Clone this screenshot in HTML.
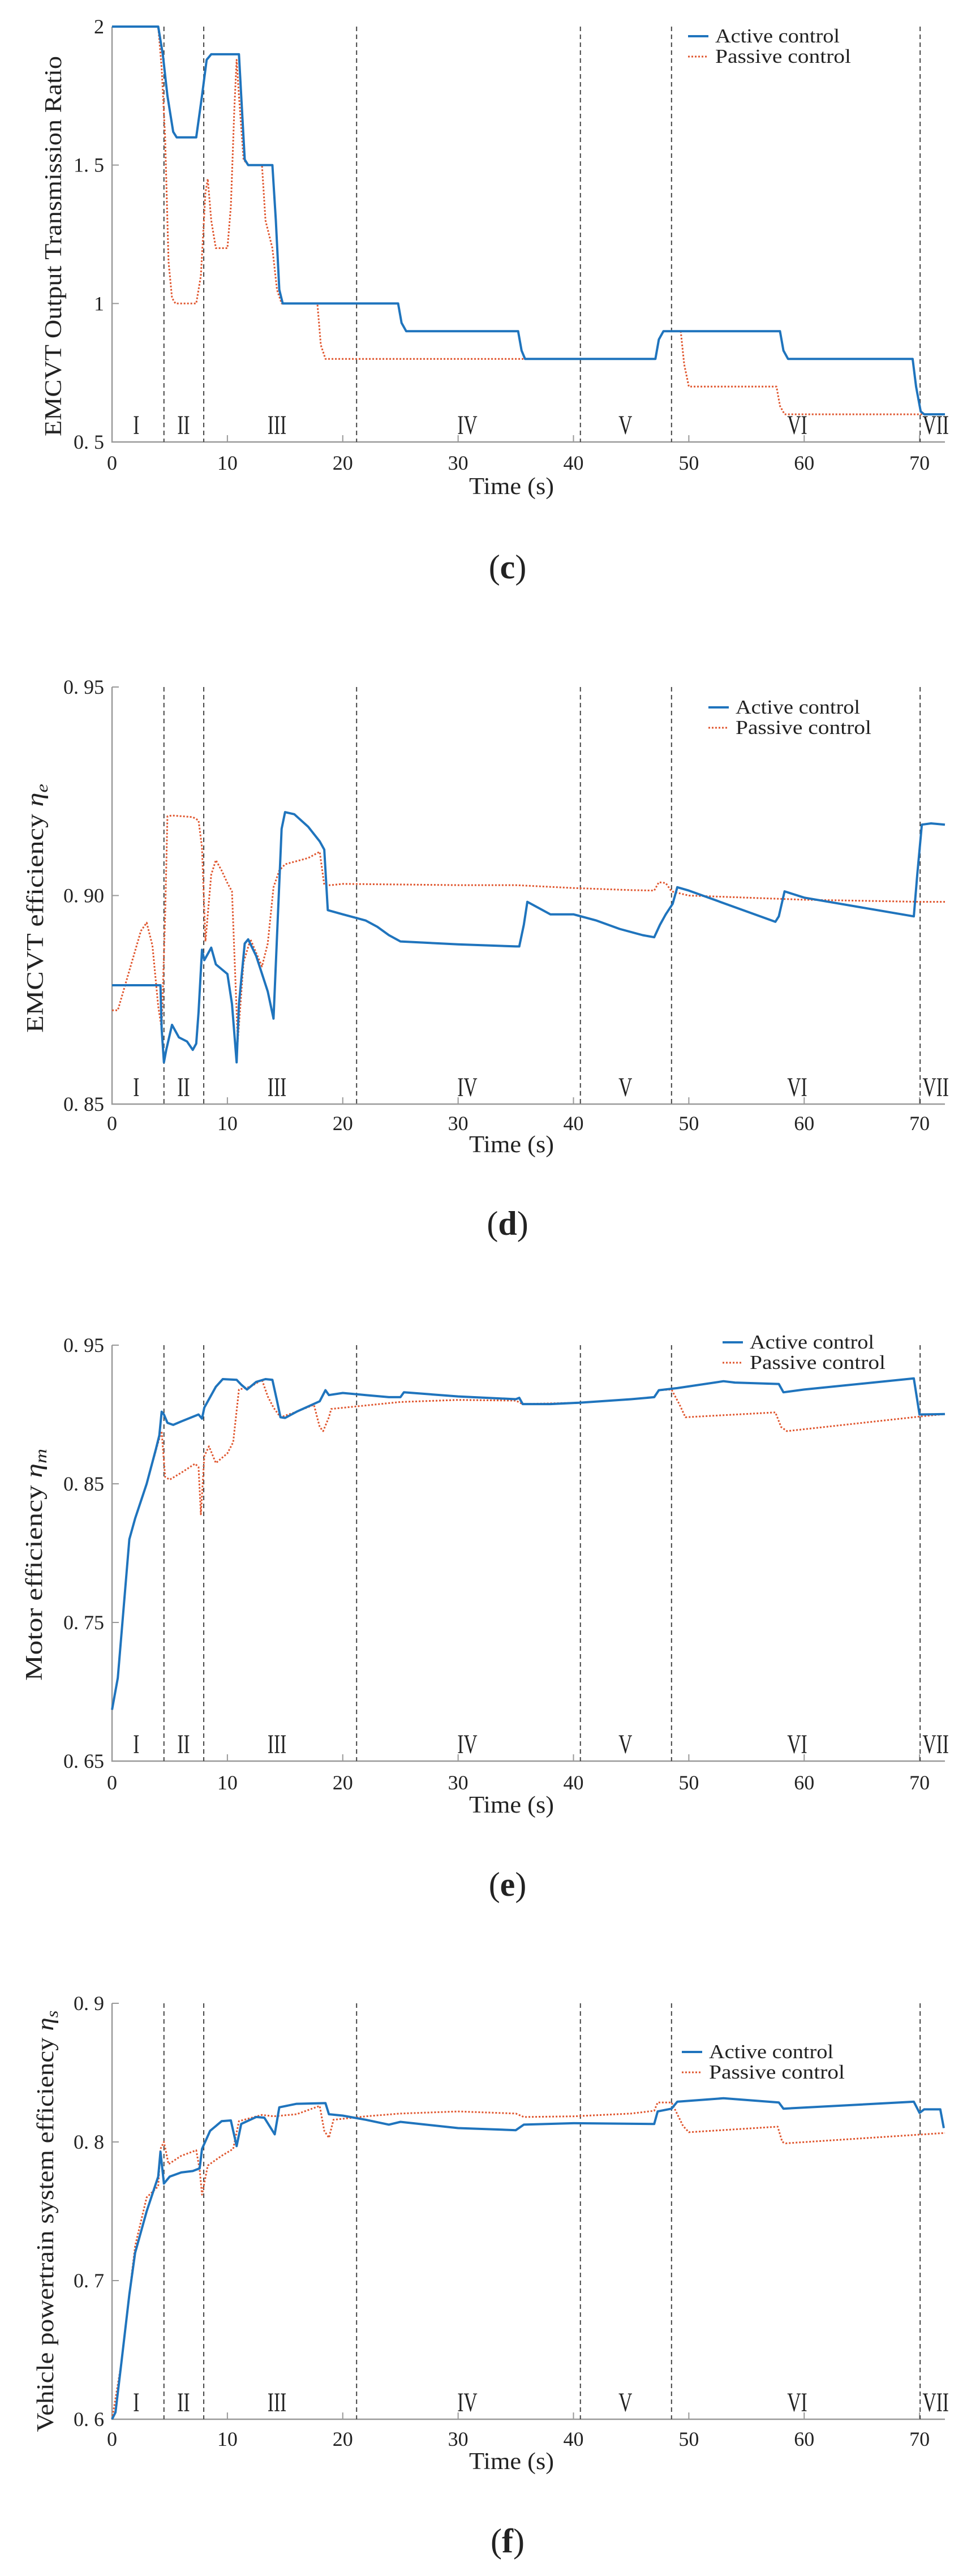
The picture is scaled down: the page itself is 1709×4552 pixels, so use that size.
<!DOCTYPE html>
<html><head><meta charset="utf-8"><title>EMCVT control comparison</title>
<style>
html,body{margin:0;padding:0;background:#fff;}
svg{display:block;}
text{font-family:"Liberation Serif",serif;fill:#222;}
</style></head>
<body>
<svg id="fig" width="1709" height="4552" viewBox="0 0 1709 4552" xmlns="http://www.w3.org/2000/svg"></svg>
<script>
// ---------- shared data ----------
const phaseBounds = [4.5, 7.95, 21.2, 40.6, 48.5, 70.05];
const phaseLabels = ["I","II","III","IV","V","VI","VII"];
const phaseLabelT = [2.1, 6.2, 14.3, 30.8, 44.5, 59.4, 71.4];
const xTicks = [0,10,20,30,40,50,60,70];

// ---------- chart (c) ----------
const cActiveT = [0,4,4.4,4.8,5.3,5.6,7.3,7.8,8.2,8.6,11,11.2,11.5,11.8,13.9,14.2,14.5,14.8,24.8,25.1,25.5,35.2,35.5,35.8,47.1,47.4,47.8,57.9,58.2,58.6,69.4,69.7,70.1,70.4,72.2];
const cActiveV = [2,2,1.9,1.75,1.62,1.6,1.6,1.75,1.88,1.9,1.9,1.75,1.52,1.5,1.5,1.3,1.05,1.0,1.0,0.93,0.9,0.9,0.83,0.8,0.8,0.87,0.9,0.9,0.83,0.8,0.8,0.7,0.61,0.6,0.6];
const cPassiveT = [0,4,4.3,4.6,4.9,5.2,5.5,7.3,7.7,8.1,8.3,8.6,9,10,10.3,10.6,10.8,11,11.4,11.8,13,13.3,13.9,14.3,14.7,17.8,18.1,18.5,35.8,47.1,47.4,47.8,49.3,49.6,50,57.6,57.9,58.3,72.2];
const cPassiveV = [2,2,1.85,1.6,1.15,1.02,1.0,1.0,1.1,1.4,1.45,1.3,1.2,1.2,1.35,1.7,1.88,1.75,1.52,1.5,1.5,1.3,1.2,1.05,1.0,1.0,0.85,0.8,0.8,0.8,0.87,0.9,0.9,0.78,0.7,0.7,0.63,0.6,0.6];
const cYTicks = [0.5,1,1.5,2];
const cYTickLabels = ["0. 5","1","1. 5","2"];

// ---------- chart (d) ----------
const dActiveT = [0,4.2,4.3,4.5,4.7,5.2,5.8,6.5,7,7.3,7.5,7.8,8,8.6,9,10,10.4,10.8,11,11.5,11.8,12.5,13.5,14,14.3,14.7,15,15.8,17,18,18.4,18.7,20,22,23,24,25,30,35,35.3,35.7,36,37,38,40,42,44,46,47,47.5,48,48.6,49,50,57.5,57.8,58.3,60,69.5,69.8,70.2,71,72.2];
const dActiveV = [0.8785,0.8785,0.868,0.86,0.863,0.869,0.866,0.865,0.863,0.8645,0.872,0.887,0.8845,0.8875,0.8835,0.8812,0.874,0.86,0.874,0.8885,0.8895,0.8855,0.877,0.8705,0.89,0.916,0.92,0.9195,0.9165,0.913,0.911,0.8965,0.8955,0.894,0.8925,0.8905,0.889,0.8883,0.8878,0.8878,0.893,0.8985,0.897,0.8955,0.8955,0.894,0.892,0.8905,0.89,0.893,0.8955,0.898,0.902,0.9012,0.8937,0.895,0.901,0.8995,0.895,0.905,0.917,0.9173,0.917];
const dPassiveT = [0,0.5,1.5,2.5,3,3.5,4,4.3,4.6,4.8,5.2,7,7.5,7.8,8.1,8.6,9,9.5,10,10.4,10.9,11.4,12,13,13.5,14,14.5,15,17,18,18.4,19,20,30,35,40,45,47,47.4,48,48.5,50,60,70,72.2];
const dPassiveV = [0.8725,0.8725,0.882,0.8915,0.8935,0.888,0.8735,0.868,0.895,0.919,0.9192,0.9188,0.918,0.9115,0.889,0.905,0.9085,0.906,0.903,0.901,0.865,0.884,0.8895,0.883,0.8885,0.902,0.906,0.9075,0.909,0.9105,0.9025,0.9025,0.9028,0.9025,0.9025,0.9018,0.9013,0.9012,0.9032,0.903,0.901,0.9,0.899,0.8985,0.8985];
const dYTicks = [0.85,0.90,0.95];
const dYTickLabels = ["0. 85","0. 90","0. 95"];

// ---------- chart (e) ----------
const eActiveT = [0,0.5,1,1.5,2,3,3.8,4.1,4.3,4.5,4.8,5.3,6,7.5,7.8,8,9,9.6,10.8,11.2,11.7,12.5,13.3,13.9,14.3,14.6,15,16,18,18.5,18.8,20,22,24,25,25.3,30,35,35.3,35.6,38,40.5,45,47,47.4,49,53,54,57.8,58.2,60,69.5,70,72.2];
const eActiveV = [0.687,0.71,0.76,0.81,0.825,0.85,0.875,0.885,0.902,0.9,0.894,0.8925,0.895,0.9,0.897,0.905,0.92,0.9255,0.925,0.9215,0.918,0.9235,0.9255,0.925,0.91,0.898,0.8975,0.902,0.9095,0.9175,0.914,0.9155,0.914,0.9125,0.9125,0.916,0.913,0.911,0.912,0.9075,0.9075,0.9085,0.911,0.9125,0.9175,0.919,0.924,0.923,0.922,0.916,0.918,0.926,0.9,0.9003];
const ePassiveT = [0,0.5,1,1.5,2,3,4,4.3,4.6,5,6,7.2,7.5,7.7,8,8.4,9,10,10.5,11,12,13,13.5,14,14.6,16,17.5,18,18.3,18.8,19,25,30,35,35.6,40.5,45,47,47.4,48.5,49.2,49.7,57.5,58,58.5,70,72.2];
const ePassiveV = [0.687,0.71,0.76,0.81,0.825,0.85,0.88,0.888,0.855,0.853,0.858,0.8645,0.862,0.828,0.87,0.877,0.865,0.872,0.88,0.918,0.92,0.925,0.913,0.905,0.898,0.902,0.907,0.891,0.888,0.898,0.904,0.909,0.9105,0.91,0.9075,0.9085,0.911,0.9125,0.9175,0.918,0.907,0.898,0.9015,0.891,0.888,0.8985,0.9003];
const eYTicks = [0.65,0.75,0.85,0.95];
const eYTickLabels = ["0. 65","0. 75","0. 85","0. 95"];

// ---------- chart (f) ----------
const fActiveT = [0,0.3,0.8,1.5,2,3,4,4.2,4.5,5,6,7,7.6,7.8,8.5,9.5,10.3,10.8,11.2,12.5,13.2,14.1,14.5,16,18.5,18.8,20,22,24,25,30,35,35.7,40,47,47.3,48.5,49,53,57.8,58.2,69.5,70,70.4,71.8,72.1];
const fActiveV = [0.6,0.605,0.64,0.69,0.72,0.75,0.775,0.793,0.77,0.775,0.778,0.779,0.781,0.795,0.808,0.815,0.8155,0.797,0.813,0.818,0.8175,0.8055,0.825,0.8275,0.828,0.82,0.819,0.816,0.8125,0.8145,0.81,0.8085,0.8125,0.8135,0.813,0.822,0.824,0.829,0.8315,0.8285,0.824,0.829,0.821,0.8235,0.8235,0.81];
const fPassiveT = [0,0.8,1.5,2,3,4,4.2,4.5,4.9,6,7.3,7.6,7.8,8.3,9.5,10.5,11,13,14,16,18,18.4,18.8,19.2,22,25,30,35,35.7,40,45,47,47.3,48.5,49.5,50,57.7,58.1,58.4,72.2];
const fPassiveV = [0.6,0.64,0.69,0.725,0.76,0.768,0.795,0.8,0.784,0.79,0.794,0.78,0.762,0.783,0.79,0.795,0.815,0.8195,0.8185,0.82,0.826,0.808,0.803,0.816,0.8185,0.8205,0.822,0.8205,0.818,0.8185,0.8205,0.8225,0.8285,0.8285,0.8115,0.807,0.811,0.8,0.799,0.8065];
const fYTicks = [0.6,0.7,0.8,0.9];
const fYTickLabels = ["0. 6","0. 7","0. 8","0. 9"];

// ---------- drawing ----------
const NS = "http://www.w3.org/2000/svg";
const svg = document.getElementById("fig");
const X0 = 198, X1 = 1670, TMAX = 72.2;
function xs(t){ return X0 + (X1 - X0) * t / TMAX; }
function mk(tag, attrs, parent){
  const el = document.createElementNS(NS, tag);
  for (const k in attrs) el.setAttribute(k, attrs[k]);
  (parent || svg).appendChild(el);
  return el;
}
function mkText(str, attrs, parent){ const t = mk("text", attrs, parent); t.textContent = str; return t; }

function drawChart(cfg){
  const g = mk("g", {});
  
  
  const ys = v => cfg.yBot - (cfg.yBot - cfg.yTop) * (v - cfg.vMin) / (cfg.vMax - cfg.vMin);

  const ax = mk("path", {d:`M${X0},${cfg.yTop} L${X0},${cfg.yBot} L${X1},${cfg.yBot}`, fill:"none", stroke:"#999", "stroke-width":2.5}, g);
  
  

  xTicks.forEach(t => {
    const x = xs(t);
    const tk = mk("line", {x1:x, x2:x, y1:cfg.yBot, y2:cfg.yBot-12, stroke:"#999", "stroke-width":2}, g);
    
    
    const lb = mkText(String(t), {x:x, y:cfg.xLabY, "text-anchor":"middle", "font-size":36}, g);
    
    
  });
  cfg.yTicks.forEach((v, i) => {
    const y = ys(v);
    const tk = mk("line", {x1:X0, x2:X0+12, y1:y, y2:y, stroke:"#999", "stroke-width":2}, g);
    
    
    const lb = mkText(cfg.yTickLabels[i], {x:184, y:y+12, "text-anchor":"end", "font-size":36}, g);
    
    
  });

  phaseBounds.forEach(t => {
    const l = mk("line", {x1:xs(t), x2:xs(t), y1:cfg.yTop, y2:cfg.yBot, stroke:"#444", "stroke-width":2, "stroke-dasharray":"8 6"}, g);
    
    
  });
  phaseLabels.forEach((s, i) => {
    const px = xs(phaseLabelT[i]);
    const lb = mkText(s, {x:px, y:cfg.yBot-14, "text-anchor":"middle", "font-size":48, transform:`translate(${px*0.3},0) scale(0.7,1)`}, g);
    
    
  });

  function pts(T, V){ return T.map((t,i)=>`${xs(t).toFixed(1)},${ys(V[i]).toFixed(1)}`).join(" "); }
  const pa = mk("polyline", {points:pts(cfg.pT, cfg.pV), fill:"none", stroke:"#e0562e", "stroke-width":3, "stroke-dasharray":"3 3", "stroke-linejoin":"round"}, g);
  
  
  const aa = mk("polyline", {points:pts(cfg.aT, cfg.aV), fill:"none", stroke:"#1f74bd", "stroke-width":4, "stroke-linejoin":"round"}, g);
  
  

  const lg = mk("g", {}, g);
  
  
  const l1 = mk("line", {x1:cfg.legX, x2:cfg.legX+36, y1:cfg.legY, y2:cfg.legY, stroke:"#1f74bd", "stroke-width":4}, lg);
  
  
  const t1 = mkText("Active control", {x:cfg.legX+48, y:cfg.legY+11, "font-size":35, textLength:220, lengthAdjust:"spacingAndGlyphs"}, lg);
  
  
  const l2 = mk("line", {x1:cfg.legX, x2:cfg.legX+36, y1:cfg.legY+36, y2:cfg.legY+36, stroke:"#e0562e", "stroke-width":3, "stroke-dasharray":"3 3"}, lg);
  
  
  const t2 = mkText("Passive control", {x:cfg.legX+48, y:cfg.legY+47, "font-size":35, textLength:240, lengthAdjust:"spacingAndGlyphs"}, lg);
  
  

  const xt = mkText("Time (s)", {x:904, y:cfg.xTitleY, "text-anchor":"middle", "font-size":42, textLength:150, lengthAdjust:"spacingAndGlyphs"}, g);
  
  
  const yt = mk("text", {x:0, y:0, "text-anchor":"middle", "font-size":cfg.ytSize, textLength:cfg.ytLen, lengthAdjust:"spacingAndGlyphs", transform:`translate(${cfg.ytX},${cfg.ytY}) rotate(-90)`}, g);
  
  
  yt.textContent = cfg.ytText;
  if (cfg.ytSub){
    const ts = document.createElementNS(NS, "tspan");
    ts.setAttribute("font-style", "italic");
    ts.textContent = "  η";
    yt.appendChild(ts);
    const sb = document.createElementNS(NS, "tspan");
    sb.setAttribute("font-style", "italic");
    sb.setAttribute("font-size", cfg.ytSize*0.7);
    sb.setAttribute("dy", 8);
    sb.textContent = cfg.ytSub;
    yt.appendChild(sb);
  }

  const cap = mk("text", {x:897, y:cfg.capY, "text-anchor":"middle", "font-size":60}, g);
  
  
  cap.appendChild(document.createTextNode("("));
  const b = document.createElementNS(NS, "tspan");
  b.setAttribute("font-weight", "bold");
  b.textContent = cfg.cap;
  cap.appendChild(b);
  cap.appendChild(document.createTextNode(")"));
}

drawChart({name:"chart-c-transmission-ratio", yTop:47, yBot:781, vMin:0.5, vMax:2, yTicks:cYTicks, yTickLabels:cYTickLabels,
  aT:cActiveT, aV:cActiveV, pT:cPassiveT, pV:cPassiveV, legX:1216, legY:64, xLabY:830, xTitleY:873,
  ytText:"EMCVT Output Transmission Ratio", ytX:108, ytY:435, ytSize:42, ytLen:672, ytSub:null, capY:1022, cap:"c"});
drawChart({name:"chart-d-emcvt-efficiency", yTop:1214, yBot:1951, vMin:0.85, vMax:0.95, yTicks:dYTicks, yTickLabels:dYTickLabels,
  aT:dActiveT, aV:dActiveV, pT:dPassiveT, pV:dPassiveV, legX:1252, legY:1250, xLabY:1997, xTitleY:2036,
  ytText:"EMCVT efficiency", ytX:76, ytY:1605, ytSize:42, ytLen:440, ytSub:"e", capY:2182, cap:"d"});
drawChart({name:"chart-e-motor-efficiency", yTop:2377, yBot:3112, vMin:0.65, vMax:0.95, yTicks:eYTicks, yTickLabels:eYTickLabels,
  aT:eActiveT, aV:eActiveV, pT:ePassiveT, pV:ePassiveV, legX:1277, legY:2372, xLabY:3162, xTitleY:3203,
  ytText:"Motor efficiency", ytX:74, ytY:2765, ytSize:42, ytLen:410, ytSub:"m", capY:3350, cap:"e"});
drawChart({name:"chart-f-powertrain-efficiency", yTop:3540, yBot:4275, vMin:0.6, vMax:0.9, yTicks:fYTicks, yTickLabels:fYTickLabels,
  aT:fActiveT, aV:fActiveV, pT:fPassiveT, pV:fPassiveV, legX:1205, legY:3626, xLabY:4322, xTitleY:4363,
  ytText:"Vehicle powertrain system efficiency", ytX:94, ytY:3925, ytSize:42, ytLen:745, ytSub:"s", capY:4510, cap:"f"});
</script>
</body></html>
